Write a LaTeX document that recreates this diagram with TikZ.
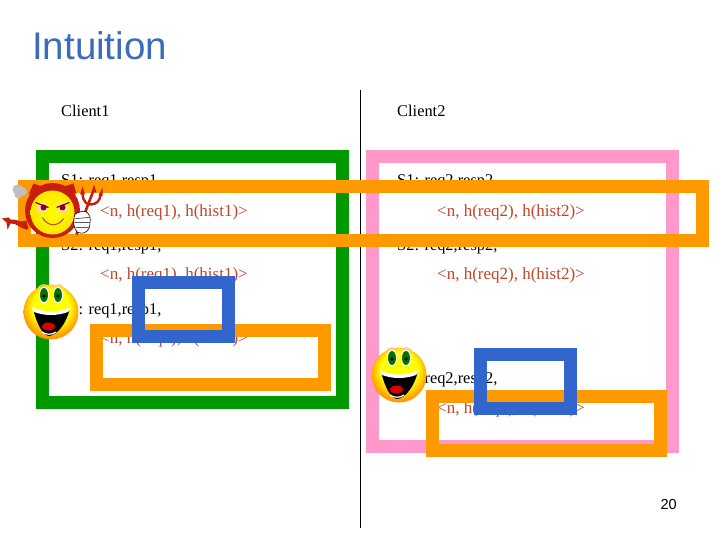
\documentclass[tikz,border=0pt]{standalone}
\usepackage{fontspec}
\setmainfont{Liberation Serif}
\newfontfamily\arialfont{Liberation Sans}
\definecolor{titleblue}{HTML}{3A6CB8}
\definecolor{boxgreen}{HTML}{009900}
\definecolor{boxpink}{HTML}{FF99CC}
\definecolor{boxorange}{HTML}{FF9900}
\definecolor{boxblue}{HTML}{3366CC}
\definecolor{msgred}{HTML}{C0452A}
\definecolor{devilred}{HTML}{C81E10}
\pgfdeclareradialshading{smileface}{\pgfpoint{0bp}{7bp}}{color(0bp)=(yellow);color(17bp)=(yellow);color(25bp)=(orange!70!yellow);color(34bp)=(orange!85!red);color(50bp)=(orange!85!red)}
\tikzset{
  x=1pt,y=-1pt,
  frame/.style={line width=13pt,line join=miter},
  clabel/.style={anchor=base west,inner sep=0pt,font=\fontsize{16.4}{18}\selectfont,text=black},
  msg/.style={anchor=base west,inner sep=0pt,font=\fontsize{17}{18}\selectfont,text=msgred},
  smiley/.pic={
    \shade[shading=smileface] (0,0) circle[radius=27.5];
    \fill[white] (-7,-17) ellipse[x radius=5,y radius=8.5];
    \fill[white] (7,-17) ellipse[x radius=5,y radius=8.5];
    \fill[green!45!black] (-7,-17) ellipse[x radius=4,y radius=7];
    \fill[green!45!black] (7,-17) ellipse[x radius=4,y radius=7];
    \fill[black] (-7,-16) circle[radius=1.8];
    \fill[black] (7,-16) circle[radius=1.8];
    \draw[orange!40!white,line width=1.1pt] (-13,-22) .. controls (-12,-29) and (-3,-29) .. (-2,-23);
    \draw[orange!40!white,line width=1.1pt] (2,-23) .. controls (3,-29) and (12,-29) .. (13,-22);
    \fill[black] (-18,-4) .. controls (-7,2) and (7,2) .. (19,-4) .. controls (16,10) and (7,23) .. (-2,24) .. controls (-9,23) and (-15,10) .. (-18,-4) -- cycle;
    \fill[white] (-19,-5) .. controls (-7,1) and (7,1) .. (20,-5) .. controls (19,-2) and (18,-1) .. (17,0) .. controls (6,4) and (-6,4) .. (-17,0) .. controls (-18,-1) and (-18.5,-2) .. (-19,-5) -- cycle;
    \fill[red!85!black] (-2.5,14.5) ellipse[x radius=6.5,y radius=4];
    \draw[white,line width=1.2pt] (-9,20) .. controls (-5,23) and (1,23) .. (5,20);
  },
  devil/.pic={
    \fill[gray!50] (-35,-21) circle[radius=5] (-30,-19) circle[radius=4.5] (-34,-16) circle[radius=4];
    \fill[devilred] (-26,10) .. controls (-32,13) and (-36,8) .. (-42,9) -- (-44,7) -- (-50.5,8) -- (-46,12) -- (-45,19) -- (-42,13) .. controls (-36,12) and (-32,19) .. (-24,19) -- cycle;
    \fill[devilred] (-24,-16) -- (-19,-27) -- (-8,-23) -- cycle;
    \fill[devilred] (24,-16) -- (21,-27) -- (8,-23) -- cycle;
    \fill[devilred] (0,0) circle[radius=27.5];
    \shade[inner color=yellow,outer color=yellow!80!orange] (0,2) circle[radius=22];
    \fill[white!85!red] (-10,-3) ellipse[x radius=5.5,y radius=5];
    \fill[white!85!red] (10,-3) ellipse[x radius=5.5,y radius=5];
    \fill[red!60!black] (-9,-3) circle[radius=3];
    \fill[red!60!black] (10,-3) circle[radius=3];
    \draw[red!50!black,line width=1.2pt] (-17,-8) -- (-4,-3);
    \draw[red!50!black,line width=1.2pt] (17,-8) -- (4,-3);
    \draw[orange!70!black,line width=1.1pt] (-10,7) .. controls (-5,16) and (5,17) .. (11,8);
    \draw[devilred,line width=2.6pt] (24,24) -- (41,-20);
    \draw[devilred,line width=2.4pt] (30,-18) .. controls (30,-8) and (35,-6) .. (38,-6) .. controls (43,-6) and (48,-9) .. (48,-17);
    \fill[devilred] (30,-24) -- (32.5,-16) -- (27.5,-16) -- cycle (41.5,-26) -- (44,-18) -- (39,-18) -- cycle (50,-23) -- (50,-14) -- (46,-15) -- cycle;
    \fill[white,draw=black,line width=.6pt,rounded corners=3pt] (22,3) -- (33,0) -- (38,6) -- (37,18) -- (32,23) -- (24,22) -- (21,14) -- cycle;
    \draw[black,line width=.5pt] (23,8) -- (37,7) (22,12) -- (37,12) (23,17) -- (36,17);
  }
}
\begin{document}
\begin{tikzpicture}
\useasboundingbox (0,0) rectangle (720,540);
\fill[white] (0,0) rectangle (720,540);
% title and page number
\node[anchor=base west,inner sep=0pt,font=\arialfont\fontsize{38.5}{40}\selectfont,text=titleblue] (title) at (32,60) {Intuition};
\node[anchor=base east,inner sep=0pt,font=\arialfont\fontsize{14.5}{16}\selectfont] (page) at (677,509) {20};
% divider
\coordinate (divtop) at (360,90);
\coordinate (divbot) at (360,528);
\draw[black,line width=1pt] (divtop) -- (divbot);
% texts
\node[clabel] (c1) at (61,117) {Client1};
\node[clabel] (c2) at (397,117) {Client2};
\node[clabel] (a1) at (61,186) {S1: req1,resp1,};
\node[msg] (a1m) at (100,216) {<n, h(req1), h(hist1)>};
\node[clabel] (a2) at (61,250) {S2: req1,resp1,};
\node[msg] (a2m) at (100,279) {<n, h(req1), h(hist1)>};
\node[clabel] (a3) at (61,314) {S3: req1,resp1,};
\node[msg] (a3m) at (100,343) {<n, h(req1), h(hist1)>};
\node[clabel] (b1) at (397,186) {S1: req2,resp2,};
\node[msg] (b1m) at (437,216) {<n, h(req2), h(hist2)>};
\node[clabel] (b2) at (397,250) {S2: req2,resp2,};
\node[msg] (b2m) at (437,279) {<n, h(req2), h(hist2)>};
\node[clabel] (b3) at (397,383) {S3: req2,resp2,};
\node[msg] (b3m) at (437,413) {<n, h(req2), h(hist2)>};
% frames
\draw[frame,boxgreen] (42.5,156.5) rectangle (342.5,402.5);
\draw[frame,boxpink] (372.5,156.5) rectangle (672.5,446.5);
\draw[frame,boxorange] (24.5,186.5) rectangle (702.5,240.5);
\draw[frame,boxorange] (96.5,330.5) rectangle (324.5,384.5);
\draw[frame,boxorange] (432.5,396.5) rectangle (660.5,450.5);
\draw[frame,boxblue] (138.5,282.5) rectangle (228.5,336.5);
\draw[frame,boxblue] (480.5,354.5) rectangle (570.5,408.5);
% characters
\pic at (52.5,210.5) {devil};
\pic at (51,312) {smiley};
\pic at (399,375) {smiley};
\end{tikzpicture}
\end{document}
